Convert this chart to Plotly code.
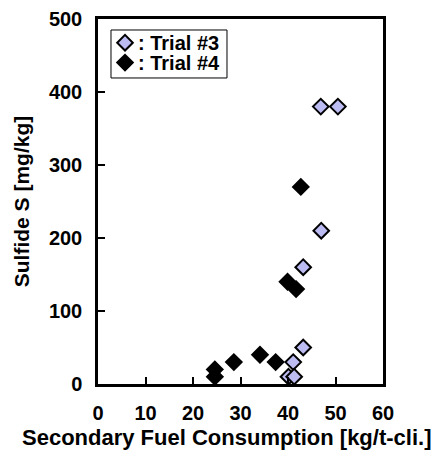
import plotly.graph_objects as go

trial3_x = [46.9, 50.5, 47.0, 43.2, 43.2, 41.1, 40.1, 41.3]
trial3_y = [380, 380, 210, 160, 50, 30, 10, 10]
trial4_x = [42.7, 39.9, 41.7, 34.1, 28.6, 37.4, 24.6, 24.6]
trial4_y = [270, 140, 130, 40, 30, 30, 20, 10]
x_ticks = [0, 10, 20, 30, 40, 50, 60]
y_ticks = [0, 100, 200, 300, 400, 500]
legend_labels = [": Trial #3", ": Trial #4"]
x_title = "Secondary Fuel Consumption [kg/t-cli.]"
y_title = "Sulfide S [mg/kg]"

fam = "Liberation Sans, Arial, sans-serif"
tick_font = dict(family=fam, size=20, color="black", weight="bold")
title_font = dict(family=fam, size=21, color="black", weight="bold")
xtitle_font = dict(family=fam, size=22, color="black", weight="bold")
leg_font = dict(family=fam, size=20, color="black", weight="bold")

fig = go.Figure()
fig.add_trace(go.Scatter(
    x=trial3_x, y=trial3_y, mode="markers", name="", showlegend=True,
    marker=dict(symbol="diamond", size=12, color="#bcbcf2",
                line=dict(color="black", width=2))))
fig.add_trace(go.Scatter(
    x=trial4_x, y=trial4_y, mode="markers", name="", showlegend=True,
    marker=dict(symbol="diamond", size=12, color="black",
                line=dict(color="black", width=2))))

axis_common = dict(showgrid=False, zeroline=False, showline=True, linecolor="black",
                   linewidth=2.5, mirror=True, ticks="inside", ticklen=7,
                   tickwidth=2, tickcolor="black", tickfont=tick_font,
                   automargin=False)

# legend frame and labels (paper coords)
fig.add_shape(type="rect", xref="paper", yref="paper",
              x0=0.0456, x1=0.4526, y0=0.8384, y1=0.9699,
              line=dict(color="black", width=1), fillcolor="rgba(0,0,0,0)")
for lab, yy in zip(legend_labels, [0.934, 0.879]):
    fig.add_annotation(xref="paper", yref="paper", x=0.133, y=yy,
                       xanchor="left", yanchor="middle", showarrow=False,
                       text=f"<b>{lab}</b>", font=leg_font)

# x-axis title (placed as in the reference, slightly left of plot centre)
fig.add_annotation(xref="paper", yref="paper", x=0.4526, y=-0.147,
                   xanchor="center", yanchor="middle", showarrow=False,
                   text=f"<b>{x_title}</b>", font=xtitle_font)

fig.update_layout(
    width=435, height=452,
    margin=dict(l=98, r=52, t=19, b=68),
    paper_bgcolor="white", plot_bgcolor="white",
    font=tick_font,
    showlegend=True,
    legend=dict(x=0.0246, y=0.976, xanchor="left", yanchor="top",
                borderwidth=0, bgcolor="rgba(0,0,0,0)",
                font=dict(family=fam, size=13, color="black"),
                tracegroupgap=0, itemwidth=30),
    xaxis=dict(range=[0, 60], tickvals=x_ticks,
               ticktext=[f"<b>{v}</b>" for v in x_ticks],
               ticklabelstandoff=9, **axis_common),
    yaxis=dict(range=[0, 500], tickvals=y_ticks,
               ticktext=[f"<b>{v}</b>" for v in y_ticks],
               title=dict(text=f"<b>{y_title}</b>", font=title_font, standoff=14),
               ticklabelstandoff=9, **axis_common),
)

fig.write_html("out.html")
